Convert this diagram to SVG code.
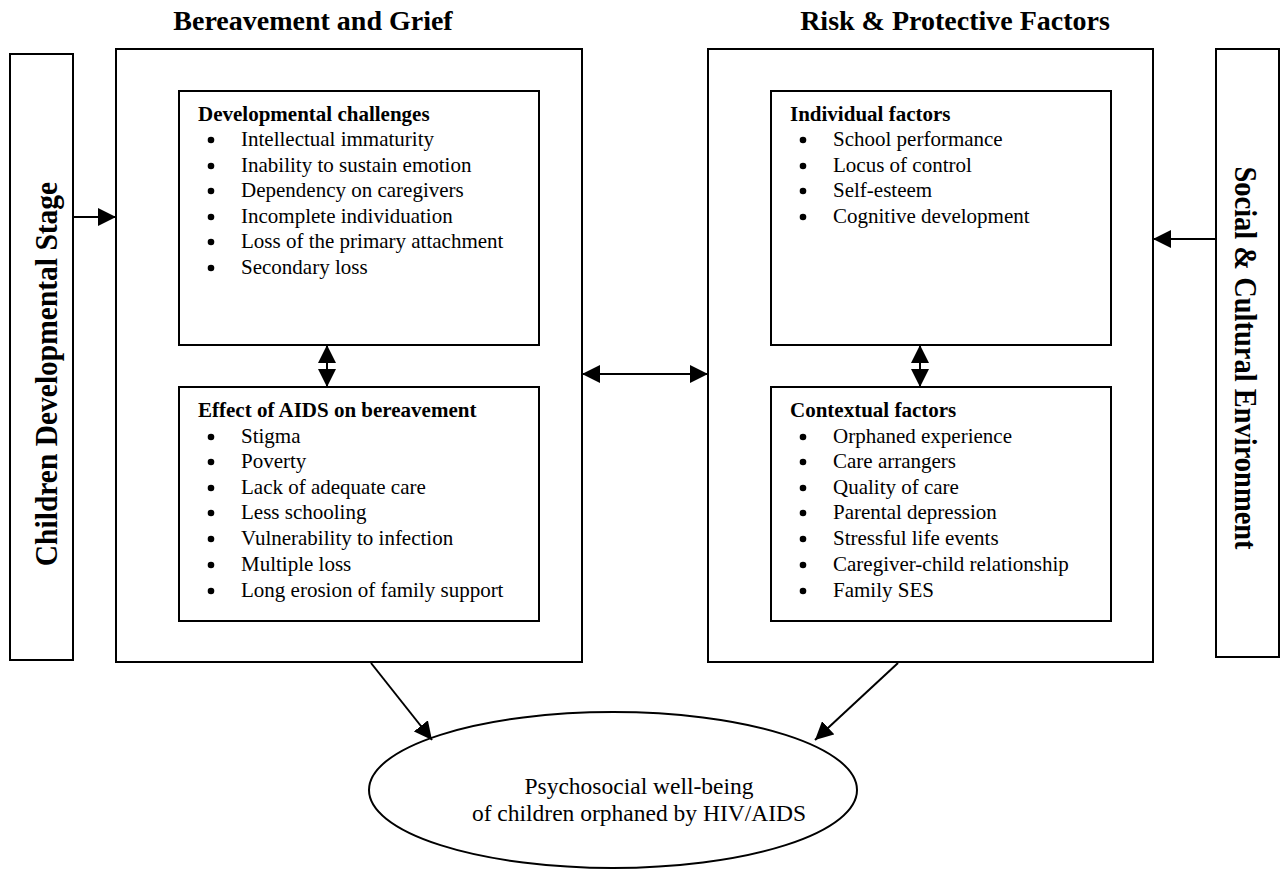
<svg xmlns="http://www.w3.org/2000/svg" width="1285" height="874" viewBox="0 0 1285 874">
<style>
.box{fill:#fff;stroke:#000;stroke-width:2}
.t{font-family:"Liberation Serif","Times New Roman",serif;fill:#000}
.title{font-size:28px;font-weight:bold}
.vert{font-weight:bold}
.h{font-size:21px;font-weight:bold}
.i{font-size:21px}
.e{font-size:23.5px}
.ln{stroke:#000;stroke-width:2;fill:none}
.b{fill:#000}
</style>
<defs>
<marker id="ahb" viewBox="0 0 18 18" refX="18" refY="9" markerWidth="18" markerHeight="18" markerUnits="userSpaceOnUse" orient="auto-start-reverse">
<path d="M0,0 L18,9 L0,18 Z" fill="#000"/>
</marker>
</defs>
<rect width="1285" height="874" fill="#fff"/>
<g id="title-left"><text class="t title" x="313" y="30" text-anchor="middle">Bereavement and Grief</text></g>
<g id="title-right"><text class="t title" x="955" y="30" text-anchor="middle">Risk &amp; Protective Factors</text></g>
<g id="children-stage">
<rect class="box" x="10" y="54" width="63" height="606"/>
<text class="t vert" font-size="29.5" transform="translate(57,374) rotate(-90) scale(1,1.08)" text-anchor="middle">Children Developmental Stage</text>
</g>
<g id="social-env">
<rect class="box" x="1216" y="49" width="63" height="608"/>
<text class="t vert" font-size="28.5" transform="translate(1235,358) rotate(90) scale(1,1.1)" text-anchor="middle">Social &amp; Cultural Environment</text>
</g>
<g id="bereavement">
<rect class="box" x="116" y="49" width="466" height="613"/>
</g>
<g id="risk">
<rect class="box" x="708" y="49" width="445" height="613"/>
</g>
<g id="developmental">
<rect class="box" x="179" y="91" width="360" height="254"/>
<text class="t h" x="198" y="121">Developmental challenges</text>
<g class="b"><circle cx="211" cy="140" r="3.3"/><circle cx="211" cy="166" r="3.3"/><circle cx="211" cy="191" r="3.3"/><circle cx="211" cy="217" r="3.3"/><circle cx="211" cy="242" r="3.3"/><circle cx="211" cy="268" r="3.3"/></g>
<g class="t i">
<text x="241" y="146">Intellectual immaturity</text>
<text x="241" y="172">Inability to sustain emotion</text>
<text x="241" y="197">Dependency on caregivers</text>
<text x="241" y="223">Incomplete individuation</text>
<text x="241" y="248">Loss of the primary attachment</text>
<text x="241" y="274">Secondary loss</text>
</g>
</g>
<g id="aids-effect">
<rect class="box" x="179" y="387" width="360" height="234"/>
<text class="t h" x="198" y="417">Effect of AIDS on bereavement</text>
<g class="b"><circle cx="211" cy="437" r="3.3"/><circle cx="211" cy="462" r="3.3"/><circle cx="211" cy="488" r="3.3"/><circle cx="211" cy="513" r="3.3"/><circle cx="211" cy="539" r="3.3"/><circle cx="211" cy="565" r="3.3"/><circle cx="211" cy="591" r="3.3"/></g>
<g class="t i">
<text x="241" y="443">Stigma</text>
<text x="241" y="468">Poverty</text>
<text x="241" y="494">Lack of adequate care</text>
<text x="241" y="519">Less schooling</text>
<text x="241" y="545">Vulnerability to infection</text>
<text x="241" y="571">Multiple loss</text>
<text x="241" y="597">Long erosion of family support</text>
</g>
</g>
<g id="individual">
<rect class="box" x="771" y="91" width="340" height="254"/>
<text class="t h" x="790" y="121">Individual factors</text>
<g class="b"><circle cx="803" cy="140" r="3.3"/><circle cx="803" cy="166" r="3.3"/><circle cx="803" cy="191" r="3.3"/><circle cx="803" cy="217" r="3.3"/></g>
<g class="t i">
<text x="833" y="146">School performance</text>
<text x="833" y="172">Locus of control</text>
<text x="833" y="197">Self-esteem</text>
<text x="833" y="223">Cognitive development</text>
</g>
</g>
<g id="contextual">
<rect class="box" x="771" y="387" width="340" height="234"/>
<text class="t h" x="790" y="417">Contextual factors</text>
<g class="b"><circle cx="803" cy="437" r="3.3"/><circle cx="803" cy="462" r="3.3"/><circle cx="803" cy="488" r="3.3"/><circle cx="803" cy="513" r="3.3"/><circle cx="803" cy="539" r="3.3"/><circle cx="803" cy="565" r="3.3"/><circle cx="803" cy="591" r="3.3"/></g>
<g class="t i">
<text x="833" y="443">Orphaned experience</text>
<text x="833" y="468">Care arrangers</text>
<text x="833" y="494">Quality of care</text>
<text x="833" y="519">Parental depression</text>
<text x="833" y="545">Stressful life events</text>
<text x="833" y="571">Caregiver-child relationship</text>
<text x="833" y="597">Family SES</text>
</g>
</g>
<g id="outcome">
<ellipse class="box" cx="613" cy="790" rx="244" ry="78"/>
<text class="t e" x="639" y="794" text-anchor="middle">Psychosocial well-being</text>
<text class="t e" x="639" y="821" text-anchor="middle">of children orphaned by HIV/AIDS</text>
</g>
<g id="connectors">
<line class="ln" x1="73" y1="217" x2="116" y2="217" marker-end="url(#ahb)"/>
<line class="ln" x1="1216" y1="239" x2="1153" y2="239" marker-end="url(#ahb)"/>
<line class="ln" x1="582" y1="374" x2="708" y2="374" marker-start="url(#ahb)" marker-end="url(#ahb)"/>
<line class="ln" x1="327" y1="345" x2="327" y2="387" marker-start="url(#ahb)" marker-end="url(#ahb)"/>
<line class="ln" x1="920" y1="345" x2="920" y2="387" marker-start="url(#ahb)" marker-end="url(#ahb)"/>
<line class="ln" x1="371" y1="663" x2="432" y2="740" marker-end="url(#ahb)"/>
<line class="ln" x1="898" y1="663" x2="815" y2="740" marker-end="url(#ahb)"/>
</g>
</svg>
